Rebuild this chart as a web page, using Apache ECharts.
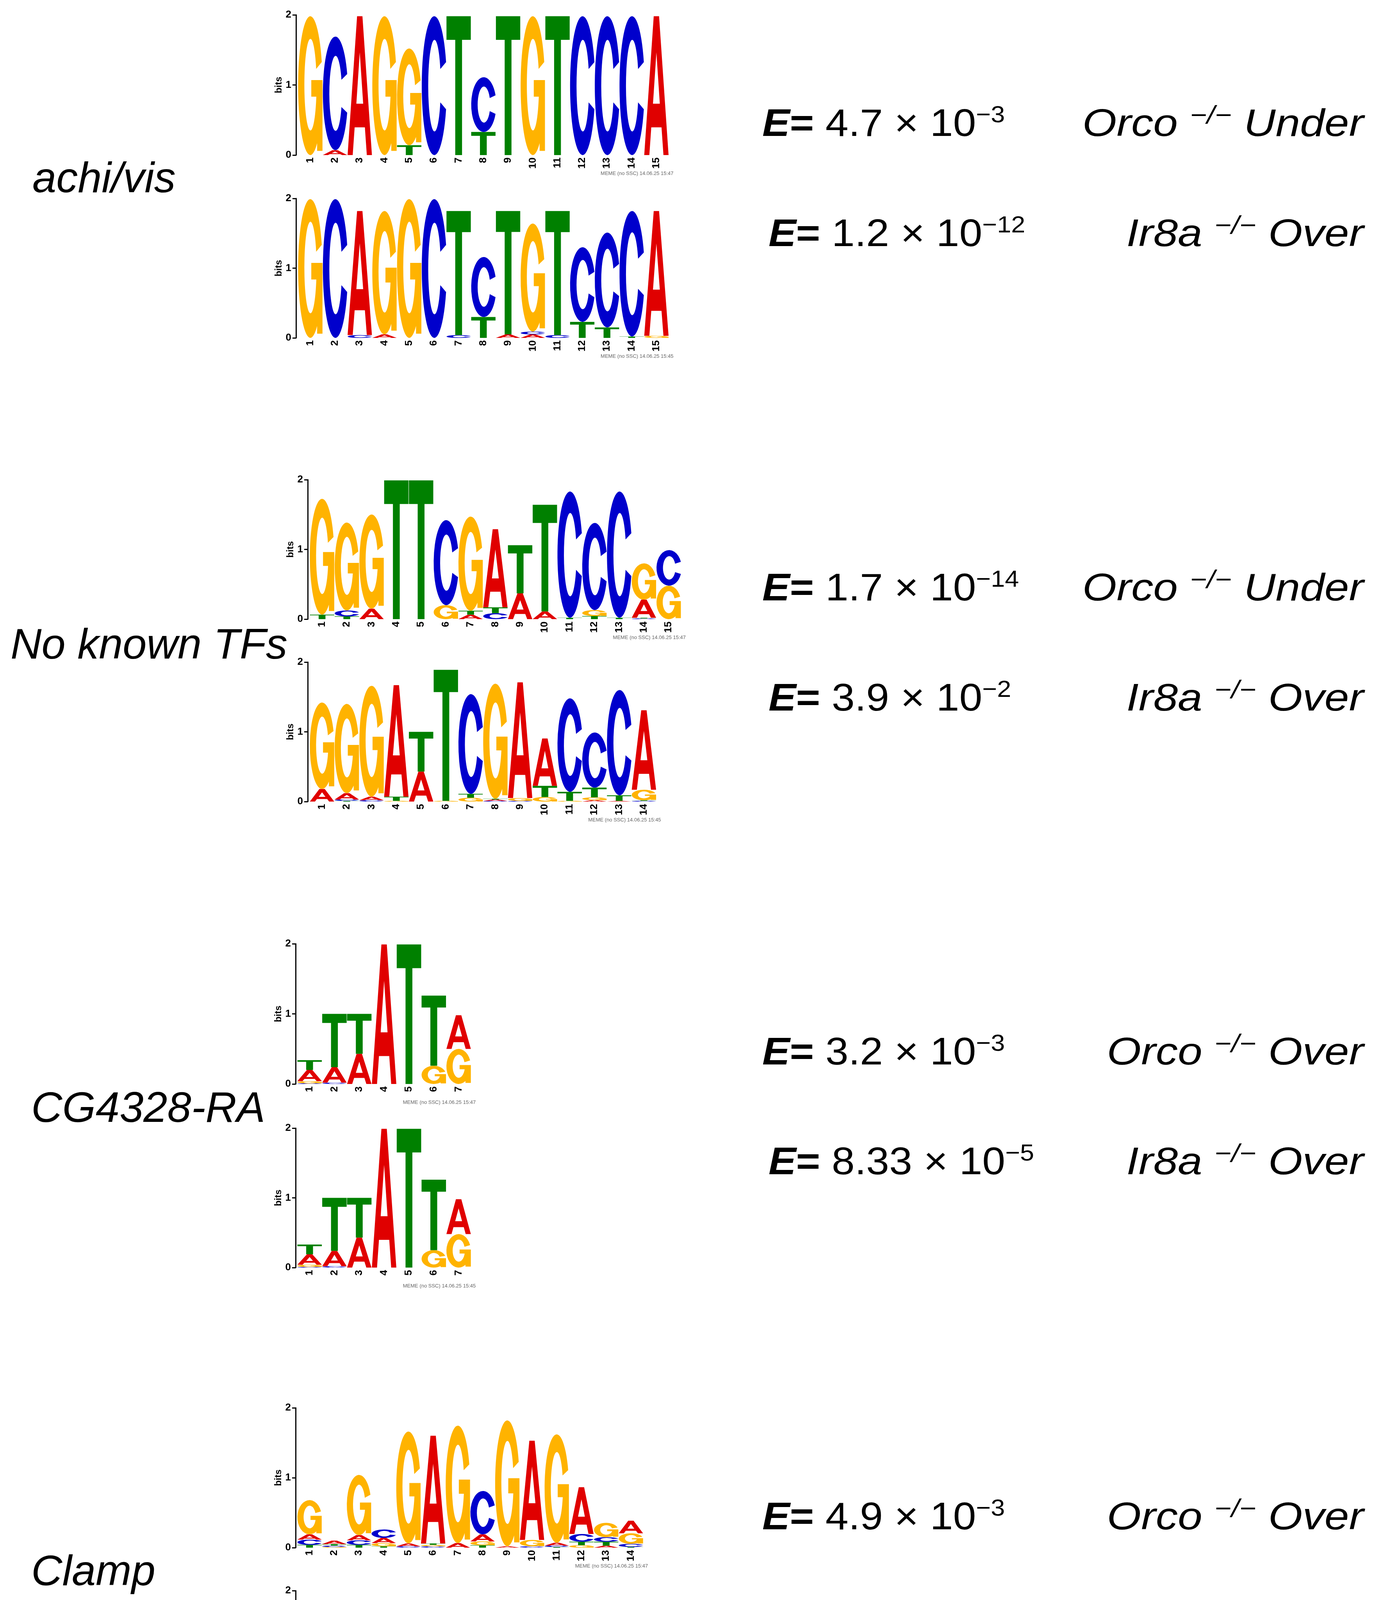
<!DOCTYPE html>
<html><head><meta charset="utf-8">
<script src="https://cdn.jsdelivr.net/npm/echarts@6/dist/echarts.min.js"></script>
<style>html,body{margin:0;padding:0;background:#fff}#c{width:3521px;height:5706px}</style>
</head><body><div id="c"></div>
<script>
// ---------- DATA (letters bottom -> top, height in bits) ----------
const achiOrco = ['G1.98','A.07 C1.62','A1.98','G1.98','T.14 G1.38','C1.98','T1.98','T.33 C.78','T1.98','G1.98','T1.98','C1.98','C1.98','C1.98','A1.98'];
const achiIr8a = ['G1.99','C1.99','C.04 A1.78','A.05 G1.77','G1.99','C1.99','C.04 T1.78','T.30 C.86','A.05 T1.77','A.05 C.04 G1.55','C.04 T1.78','T.23 C1.07','T.15 C1.36','T.02 C1.80','G.03 A1.79'];
const noneOrco = ['T.065 G1.66','T.04 C.085 G1.26','A.15 G1.35','T1.99','T1.99','G.20 C1.22','A.065 T.055 G1.35','C.085 T.085 A1.12','A.37 T.69','A.11 T1.53','T.02 C1.81','T.045 G.085 C1.25','T.02 C1.81','C.01 T.01 A.26 G.52','G.48 C.51'];
const noneIr8a = ['A.18 G1.24','T.01 C.02 A.09 G1.28','C.02 A.05 G1.59','G.01 T.06 A1.60','A.43 T.57','G.01 T1.88','G.055 T.055 C1.43','C.01 A.02 T.01 G1.65','C.01 G.04 A1.66','G.065 T.16 A.68','G.01 T.13 C1.34','A.02 G.04 T.14 C.79','A.01 T.08 C1.51','C.01 T.01 G.15 A1.14'];
const cgOrco = ['C.01 G.03 A.16 T.14','C.02 A.22 T.76','A.43 T.57','A1.99','T1.99','G.26 T1.00','G.50 A.48'];
const cgIr8a = ['C.01 G.03 A.15 T.14','C.02 A.22 T.76','A.43 T.57','A1.99','T1.99','G.25 T1.01','G.48 A.50'];
const clampOrco = ['T.04 C.075 A.075 G.49','G.01 C.02 T.02 A.05','T.04 C.065 A.075 G.86','T.02 G.045 A.075 C.12','C.02 A.04 G1.60','C.02 G.02 T.02 A1.54','A.065 G1.68','T.035 G.055 A.10 C.62','A.02 G1.80','C.02 G.09 A1.42','T.01 C.02 A.04 G1.55','G.035 T.05 C.11 A.67','A.03 T.055 C.065 G.205','T.01 C.045 G.15 A.18'];
const clampIr8a = ['T.04 C.075 A.075 G.49','G.01 C.02 T.02 A.05','T.04 C.065 A.075 G.85','T.02 G.045 A.08 C.12','C.02 A.04 G1.60','C.02 G.02 T.02 A1.55','A.065 G1.68','T.035 G.06 A.10 C.62','A.02 G1.80','C.02 G.09 A1.42','T.01 C.02 A.04 G1.56','G.035 T.05 C.11 A.67','A.03 T.055 C.065 G.20','T.01 C.045 G.15 A.18'];
const suOrco = ['A.04 T.03 C.10 G.28','A.065 T.09 C1.11','G.02 T.065 A.085 C.34','','T.03 C.055 G.075 A.22','C.035 G.08 T.065 A.55','C.02 T.03 G.09 A1.19','G.10 T.09 A.94','C.045 T.055 A.075 G.76','G.01 C.14 T1.22','G.01 T.11 A1.31','G.28 T.88','A.075 G1.64','A.045 C1.72','C.055 T.23 A.42','C.045 T.045 G.11 A.51','A.055 T.16 C.22','C.03 T.035 G.11 A.21','C.015 A.05','G.02 C.025 T.13 A.18','G.02 C.025 A.17 T.16'];
const suIr8a = ['A.04 T.03 C.10 G.28','A.065 T.09 C1.11','G.02 T.065 A.085 C.34','','T.03 C.055 G.075 A.22','C.035 G.08 T.065 A.55','C.02 T.03 G.09 A1.19','G.10 T.09 A.93','C.045 T.055 A.075 G.76','G.01 C.14 T1.21','G.01 T.11 A1.31','G.28 T.87','A.075 G1.63','A.045 C1.72','C.055 T.23 A.41','C.045 T.045 G.11 A.51','A.055 T.16 C.22','C.03 T.035 G.11 A.21','C.015 A.05','G.02 C.025 T.13 A.18','G.02 C.025 A.17 T.16'];

const yTicks = [0, 1, 2];
const tfNames = ['achi/vis', 'No known TFs', 'CG4328-RA', 'Clamp', 'su(Hw)'];
const eMantissa = ['4.7', '1.2', '1.7', '3.9', '3.2', '8.33', '4.9', '1.3', '2.5', '2.8'];
const eExponent = ['\u22123', '\u221212', '\u221214', '\u22122', '\u22123', '\u22125', '\u22123', '\u22123', '\u22124', '\u22123'];
const strains = ['Orco', 'Ir8a', 'Orco', 'Ir8a', 'Orco', 'Ir8a', 'Orco', 'Ir8a', 'Orco', 'Ir8a'];
const directions = ['Under', 'Over', 'Under', 'Over', 'Over', 'Over', 'Over', 'Over', 'Over', 'Over'];
const stamps = ['MEME (no SSC) 14.06.25 15:47', 'MEME (no SSC) 14.06.25 15:45', 'MEME (no SSC) 14.06.25 15:47', 'MEME (no SSC) 14.06.25 15:45',
  'MEME (no SSC) 14.06.25 15:47', 'MEME (no SSC) 14.06.25 15:45', 'MEME (no SSC) 14.06.25 15:47', 'MEME (no SSC) 14.06.25 15:45',
  'MEME (no SSC) 14.06.25 16:02', 'MEME (no SSC) 14.06.25 15:58'];
const logoData = [achiOrco, achiIr8a, noneOrco, noneIr8a, cgOrco, cgIr8a, clampOrco, clampIr8a, suOrco, suIr8a];

// ---------- LAYOUT / STYLE ----------
const FONT = '"Liberation Sans", Arial, Helvetica, sans-serif';
const LAYOUT = [
  {left: 763, top: 38, bottom: 397, colW: 63.3, gap: 5},
  {left: 763, top: 508, bottom: 865, colW: 63.3, gap: 5},
  {left: 793, top: 1228, bottom: 1585, colW: 63.4, gap: 5},
  {left: 793, top: 1695, bottom: 2052, colW: 63.4, gap: 5},
  {left: 761, top: 2416, bottom: 2775, colW: 63.6, gap: 4},
  {left: 761, top: 2888, bottom: 3245, colW: 63.6, gap: 4},
  {left: 761, top: 3604, bottom: 3962, colW: 63.3, gap: 4},
  {left: 761, top: 4072, bottom: 4430, colW: 63.3, gap: 4},
  {left: 763, top: 4793, bottom: 5153, colW: 62.9, gap: 10},
  {left: 763, top: 5265, bottom: 5623, colW: 62.9, gap: 10}
];
const TF_POS = [{x: 83, base: 489}, {x: 27, base: 1683}, {x: 80, base: 2869}, {x: 80, base: 4055}, {x: 80, base: 5246}];
const ROW_BASE = [348, 630, 1537, 1819, 2725, 3006, 3915, 4196, 5105, 5387];
const ROW_EX = [1952, 1968, 1952, 1968, 1952, 1968, 1952, 1968, 2123, 2136];
const LABEL_RIGHT = 3492;

const LETTERS = ['A', 'C', 'G', 'T'];
const LETTER_COLOR = ['#E00000', '#0000CC', '#FFB300', '#008000'];
const GLYPH = [
  'M0 100L39 0L61 0L100 100L79 100L71 80L29 80L21 100Z M50 26L36 63L64 63Z',
  'M97 33A50 50 0 1 0 97 67L74 62A25 33 0 1 1 74 38Z',
  'M97 33A50 50 0 1 0 99 60L75 56A25 33 0 1 1 74 38Z M54 46L54 58L100 58L100 46Z M78 46L78 97L100 97L100 46Z',
  'M0 0L100 0L100 17L64 17L64 100L36 100L36 17L0 17Z'
];

function parseColumn(s) {
  if (!s) return [];
  return s.trim().split(/\s+/).map(t => [t[0], parseFloat(t.slice(1))]);
}
function buildItems(cols) {
  const items = [];
  cols.forEach((s, i) => {
    let y = 0;
    parseColumn(s).forEach(([L, h]) => {
      items.push([i, y, y + h, LETTERS.indexOf(L)]);
      y += h;
    });
  });
  return items;
}
function renderLetter(params, api) {
  const col = api.value(0), y0 = api.value(1), y1 = api.value(2), li = api.value(3);
  const pb = api.coord([col, y0]);
  const pt = api.coord([col, y1]);
  const w = api.size([1, 0])[0];
  const h = pb[1] - pt[1];
  if (h < 0.3) return null;
  return {
    type: 'path',
    shape: {pathData: GLYPH[li], x: pb[0] - w / 2 + 0.5, y: pt[1], width: w - 1, height: h, layout: 'cover'},
    style: {fill: LETTER_COLOR[li]}
  };
}

const grid = [], xAxis = [], yAxis = [], series = [], graphic = [];
logoData.forEach((cols, i) => {
  const L = LAYOUT[i];
  grid.push({left: L.left, top: L.top, width: cols.length * L.colW, height: L.bottom - L.top});
  xAxis.push({
    gridIndex: i, type: 'category', data: cols.map((_, k) => String(k + 1)), boundaryGap: true,
    axisLine: {show: false}, axisTick: {show: false}, splitLine: {show: false},
    axisLabel: {rotate: 90, interval: 0, fontSize: 26, fontWeight: 'bold', color: '#000', margin: 6, fontFamily: FONT}
  });
  yAxis.push({
    gridIndex: i, type: 'value', min: yTicks[0], max: yTicks[yTicks.length - 1], interval: 1, offset: L.gap,
    axisLine: {show: true, lineStyle: {color: '#000', width: 3}},
    axisTick: {show: true, length: 9, lineStyle: {color: '#000', width: 3}},
    axisLabel: {fontSize: 26, fontWeight: 'bold', color: '#000', margin: 12, fontFamily: FONT},
    splitLine: {show: false},
    name: 'bits', nameLocation: 'middle', nameGap: 32, nameRotate: 90,
    nameTextStyle: {fontSize: 24, fontWeight: 'bold', color: '#000', fontFamily: FONT}
  });
  series.push({
    type: 'custom', xAxisIndex: i, yAxisIndex: i, renderItem: renderLetter,
    data: buildItems(cols), encode: {x: 0, y: [1, 2]}, silent: true, clip: false
  });
  graphic.push({
    type: 'text', x: L.left + cols.length * L.colW + 12, y: L.bottom + 47, silent: true,
    style: {text: stamps[i], fontSize: 13, fontFamily: FONT, fill: '#666', align: 'right', verticalAlign: 'middle'}
  });
});

tfNames.forEach((name, k) => {
  graphic.push({
    type: 'text', x: TF_POS[k].x, y: TF_POS[k].base - 28, silent: true,
    style: {text: name, fontSize: 110, fontStyle: 'italic', fontFamily: FONT, fill: '#000', align: 'left', verticalAlign: 'middle'}
  });
});

const big = 98, lh = 104;
const rich = {
  e: {fontSize: big, fontStyle: 'italic', fontWeight: 'bold', fontFamily: FONT, lineHeight: lh, verticalAlign: 'bottom', color: '#000'},
  q: {fontSize: big, fontWeight: 'bold', fontFamily: FONT, lineHeight: lh, verticalAlign: 'bottom', color: '#000'},
  n: {fontSize: big, fontFamily: FONT, lineHeight: lh, verticalAlign: 'bottom', color: '#000'},
  s: {fontSize: 60, fontFamily: FONT, lineHeight: 50, verticalAlign: 'top', color: '#000'},
  i: {fontSize: big, fontStyle: 'italic', fontFamily: FONT, lineHeight: lh, verticalAlign: 'bottom', color: '#000'},
  d: {fontSize: 64, fontStyle: 'italic', fontFamily: FONT, lineHeight: 24, verticalAlign: 'top', color: '#000'},
  sl: {fontSize: 64, fontStyle: 'italic', fontFamily: FONT, lineHeight: 52, verticalAlign: 'top', color: '#000'}
};
eMantissa.forEach((m, r) => {
  graphic.push({
    type: 'text', x: ROW_EX[r], y: ROW_BASE[r] - 82, scaleX: 1.08, silent: true,
    style: {text: '{e|E}{q|=}{n| ' + m + ' \u00d7 10}{s|' + eExponent[r] + '}', rich: rich, align: 'left', verticalAlign: 'top'}
  });
  graphic.push({
    type: 'text', x: LABEL_RIGHT, y: ROW_BASE[r] - 82, scaleX: 1.15, silent: true,
    style: {text: '{i|' + strains[r] + ' }{d|\u2212}{sl|/}{d|\u2212}{i| ' + directions[r] + '}', rich: rich, align: 'right', verticalAlign: 'top'}
  });
});

const chart = echarts.init(document.getElementById('c'), null, {renderer: 'canvas'});
chart.setOption({
  backgroundColor: '#fff',
  animation: false,
  textStyle: {fontFamily: FONT},
  grid, xAxis, yAxis, series, graphic
});
</script>
</body></html>
